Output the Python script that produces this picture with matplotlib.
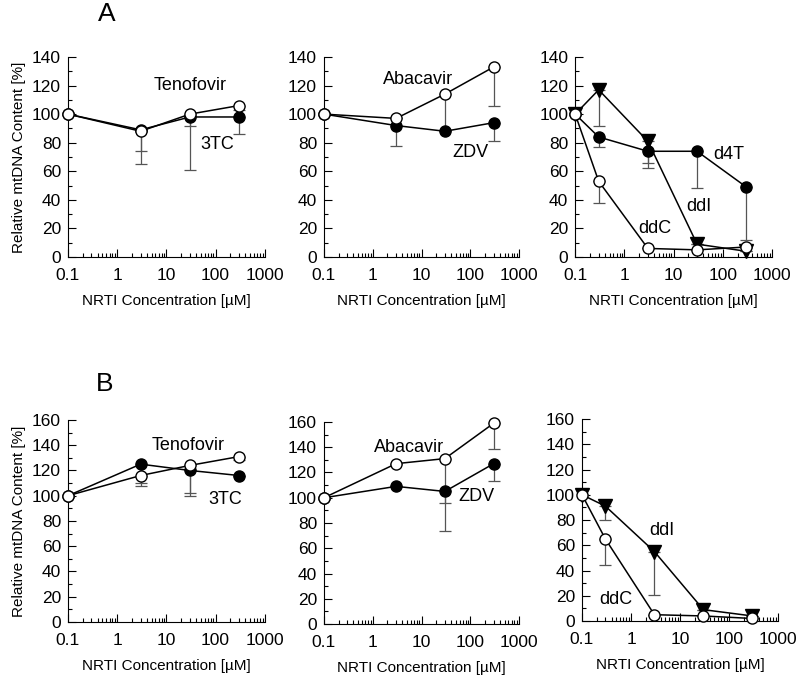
import matplotlib
matplotlib.use("Agg")
import matplotlib.pyplot as plt
from matplotlib.ticker import LogLocator, FixedLocator, NullFormatter, MultipleLocator

plt.rcParams['font.family'] = ['Liberation Sans', 'DejaVu Sans']

conc4 = [0.1, 3, 30, 300]
conc5 = [0.1, 0.3, 3, 30, 300]

# panel A
a_tenofovir = [100, 88, 100, 106]
a_tenofovir_lo = [100, 74, 92, 103]
a_3tc = [100, 89, 98, 98]
a_3tc_lo = [100, 65, 61, 86]

a_abacavir = [100, 97, 114, 133]
a_abacavir_lo = [100, 97, 89, 106]
a_zdv = [100, 92, 88, 94]
a_zdv_lo = [100, 78, 88, 81]

a_ddi = [100, 117, 81, 9, 4]
a_ddi_lo = [100, 92, 66, 9, 4]
a_d4t = [100, 84, 74, 74, 49]
a_d4t_lo = [100, 77, 62, 48, 12]
a_ddc = [100, 53, 6, 5, 7]
a_ddc_lo = [100, 38, 6, 5, 7]

# panel B
b_tenofovir = [100, 116, 124, 131]
b_tenofovir_lo = [100, 110, 102, 128]
b_3tc = [100, 125, 120, 116]
b_3tc_lo = [100, 108, 100, 116]

b_abacavir = [100, 127, 131, 159]
b_abacavir_lo = [100, 127, 96, 139]
b_zdv = [100, 109, 105, 127]
b_zdv_lo = [100, 109, 74, 113]

b_ddi = [100, 91, 55, 9, 4]
b_ddi_lo = [100, 80, 21, 9, 4]
b_ddc = [100, 65, 5, 4, 2]
b_ddc_lo = [100, 44, 5, 4, 2]


def series(ax, x, y, lo, marker, face):
    err = [max(a - b, 0) for a, b in zip(y, lo)]
    ax.errorbar(x, y, yerr=[err, [0] * len(y)], fmt='none', ecolor='#555555',
                elinewidth=0.9, capsize=4, capthick=0.9, zorder=2)
    ax.plot(x, y, color='black', lw=1.1, marker=marker, ms=8 if marker == 'o' else 9.5,
            mfc=face, mec='black', mew=1.0, zorder=3, clip_on=False)


def style(ax, ymax, ylabel=False):
    ax.set_xscale('log')
    ax.set_xlim(0.1, 1000)
    ax.set_ylim(0, ymax)
    for s in ['top', 'right']:
        ax.spines[s].set_visible(False)
    ax.xaxis.set_major_locator(FixedLocator([0.1, 1, 10, 100, 1000]))
    ax.set_xticklabels(['0.1', '1', '10', '100', '1000'])
    ax.xaxis.set_minor_locator(LogLocator(base=10, subs=range(2, 10)))
    ax.xaxis.set_minor_formatter(NullFormatter())
    ax.yaxis.set_major_locator(MultipleLocator(20))
    ax.yaxis.set_minor_locator(MultipleLocator(10))
    ax.tick_params(which='both', direction='in', labelsize=12.5, width=0.8)
    ax.tick_params(which='major', length=6, pad=5)
    ax.tick_params(which='minor', length=3)
    ax.tick_params(axis='x', which='major', pad=8)
    ax.set_xlabel('NRTI Concentration [\u00b5M]', fontsize=11, labelpad=8)
    if ylabel:
        ax.set_ylabel('Relative mtDNA Content [%]', fontsize=11)


fig = plt.figure(figsize=(8, 6.79), dpi=100)

ax1 = fig.add_axes([0.085, 0.6215, 0.246, 0.2946])
series(ax1, conc4, a_3tc, a_3tc_lo, 'o', 'black')
series(ax1, conc4, a_tenofovir, a_tenofovir_lo, 'o', 'white')
style(ax1, 140, True)
ax1.text(30, 120, 'Tenofovir', fontsize=13, ha='center', va='center')
ax1.text(110, 79, '3TC', fontsize=13, ha='center', va='center')

ax2 = fig.add_axes([0.405, 0.6215, 0.244, 0.2946])
series(ax2, conc4, a_zdv, a_zdv_lo, 'o', 'black')
series(ax2, conc4, a_abacavir, a_abacavir_lo, 'o', 'white')
style(ax2, 140)
ax2.text(8.5, 124, 'Abacavir', fontsize=13, ha='center', va='center')
ax2.text(100, 73, 'ZDV', fontsize=13, ha='center', va='center')

ax3 = fig.add_axes([0.719, 0.6215, 0.246, 0.2946])
series(ax3, conc5, a_d4t, a_d4t_lo, 'o', 'black')
series(ax3, conc5, a_ddi, a_ddi_lo, 'v', 'black')
series(ax3, conc5, a_ddc, a_ddc_lo, 'o', 'white')
style(ax3, 140)
ax3.text(130, 72, 'd4T', fontsize=13, ha='center', va='center')
ax3.text(32, 35, 'ddI', fontsize=13, ha='center', va='center')
ax3.text(4.2, 20, 'ddC', fontsize=13, ha='center', va='center')

bx1 = fig.add_axes([0.085, 0.084, 0.246, 0.2975])
series(bx1, conc4, b_3tc, b_3tc_lo, 'o', 'black')
series(bx1, conc4, b_tenofovir, b_tenofovir_lo, 'o', 'white')
style(bx1, 160, True)
bx1.text(28, 140, 'Tenofovir', fontsize=13, ha='center', va='center')
bx1.text(160, 97, '3TC', fontsize=13, ha='center', va='center')

bx2 = fig.add_axes([0.405, 0.081, 0.244, 0.2975])
series(bx2, conc4, b_zdv, b_zdv_lo, 'o', 'black')
series(bx2, conc4, b_abacavir, b_abacavir_lo, 'o', 'white')
style(bx2, 160)
bx2.text(5.5, 140, 'Abacavir', fontsize=13, ha='center', va='center')
bx2.text(130, 101, 'ZDV', fontsize=13, ha='center', va='center')

bx3 = fig.add_axes([0.7275, 0.0854, 0.245, 0.2975])
series(bx3, conc5, b_ddi, b_ddi_lo, 'v', 'black')
series(bx3, conc5, b_ddc, b_ddc_lo, 'o', 'white')
style(bx3, 160)
bx3.text(4.3, 72, 'ddI', fontsize=13, ha='center', va='center')
bx3.text(0.5, 17, 'ddC', fontsize=13, ha='center', va='center')

fig.text(0.134, 0.979, 'A', fontsize=19, ha='center', va='center')
fig.text(0.131, 0.4345, 'B', fontsize=19, ha='center', va='center')

fig.savefig('out.png', dpi=100)
